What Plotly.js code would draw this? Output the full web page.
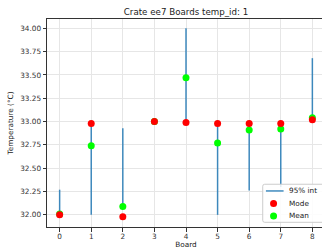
<!DOCTYPE html>
<html><head><meta charset="utf-8">
<script src="https://cdn.plot.ly/plotly-3.0.1.min.js"></script>
<style>html,body{margin:0;padding:0;overflow:hidden;background:#fff;width:322px;height:249px}</style>
</head><body><div id="chart"></div>
<script>
const boards = [0,1,2,3,4,5,6,7,8];
const intLow  = [32.0, 32.0, 32.09, 33.0, 33.0, 32.0, 32.26, 32.3, 33.03];
const intHigh = [32.27, 33.0, 32.93, 33.0, 34.0, 33.0, 33.0, 33.0, 33.68];
const modeVals = [32.0, 32.98, 31.98, 33.0, 32.99, 32.98, 32.98, 32.98, 33.02];
const meanVals = [32.01, 32.74, 32.09, 33.0, 33.47, 32.77, 32.91, 32.92, 33.04];
const legendLabels = ['95% int', 'Mode', 'Mean'];

const lx = [], ly = [];
boards.forEach((b,i)=>{ lx.push(b,b,null); ly.push(intLow[i],intHigh[i],null); });

const blue = 'rgba(31,119,180,0.85)';
const traces = [
  {x:lx, y:ly, mode:'lines', name:legendLabels[0], line:{color:blue, width:1.5}, connectgaps:false},
  {x:boards, y:meanVals, mode:'markers', name:legendLabels[2], marker:{color:'#00ff00', size:7}},
  {x:boards, y:modeVals, mode:'markers', name:legendLabels[1], marker:{color:'#ff0000', size:7}}
];
const fs = 7.3;
const ax = {showline:true, linecolor:'#333', linewidth:1, mirror:true, gridcolor:'#e6e6e6', ticks:'outside', ticklen:3.5, tickcolor:'#333', zeroline:false, automargin:false, tickfont:{size:fs, color:'#333'}};

// manual legend (paper coords), rounded box
const rx = 3.5/278.1, ry = 3.5/207.7;
const bx0 = 0.776, bx1 = 0.997, by0 = 0.0226, by1 = 0.2056, cx = 2/278.1, cy = 2/207.7;
const boxPath = `M ${bx0+cx} ${by0} L ${bx1-cx} ${by0} Q ${bx1} ${by0} ${bx1} ${by0+cy} L ${bx1} ${by1-cy} Q ${bx1} ${by1} ${bx1-cx} ${by1} L ${bx0+cx} ${by1} Q ${bx0} ${by1} ${bx0} ${by1-cy} L ${bx0} ${by0+cy} Q ${bx0} ${by0} ${bx0+cx} ${by0} Z`;
const shapes = [
  {type:'path', xref:'paper', yref:'paper', path:boxPath, line:{color:'#cccccc', width:1}, fillcolor:'rgba(255,255,255,0.85)', layer:'above'},
  {type:'line', xref:'paper', yref:'paper', x0:0.7875, x1:0.851, y0:0.1733, y1:0.1733, line:{color:blue, width:1.5}, layer:'above'},
  {type:'circle', xref:'paper', yref:'paper', x0:0.815-rx, x1:0.815+rx, y0:0.1127-ry, y1:0.1127+ry, line:{width:0}, fillcolor:'#ff0000', layer:'above'},
  {type:'circle', xref:'paper', yref:'paper', x0:0.815-rx, x1:0.815+rx, y0:0.053-ry, y1:0.053+ry, line:{width:0}, fillcolor:'#00ff00', layer:'above'}
];
const legY = [0.1733, 0.1127, 0.053];
const annotations = legendLabels.map((t,i)=>({text:t, xref:'paper', yref:'paper', x:0.8666, y:legY[i], xanchor:'left', yanchor:'middle', showarrow:false, borderpad:0, font:{size:fs, color:'#222'}}));

const layout = {
  width:325, height:249,
  margin:{l:47, r:0, t:19, b:22},
  paper_bgcolor:'#fff', plot_bgcolor:'#fff',
  font:{family:'DejaVu Sans', color:'#222'},
  showlegend:false,
  title:{text:'Crate ee7 Boards temp_id: 1', font:{size:8.7}, xref:'paper', x:0.5, xanchor:'center', y:0.952, yanchor:'middle'},
  xaxis:Object.assign({}, ax, {range:[-0.4,8.4], tickvals:boards, ticklabelstandoff:-1, title:{text:'Board', font:{size:fs}, standoff:1}}),
  yaxis:Object.assign({}, ax, {range:[31.87,34.1], tickvals:[32,32.25,32.5,32.75,33,33.25,33.5,33.75,34], ticktext:['32.00','32.25','32.50','32.75','33.00','33.25','33.50','33.75','34.00'], title:{text:'Temperature (°C)', font:{size:fs}, standoff:5}}),
  shapes:shapes, annotations:annotations
};
Plotly.newPlot('chart', traces, layout, {displayModeBar:false, staticPlot:true});
</script></body></html>
